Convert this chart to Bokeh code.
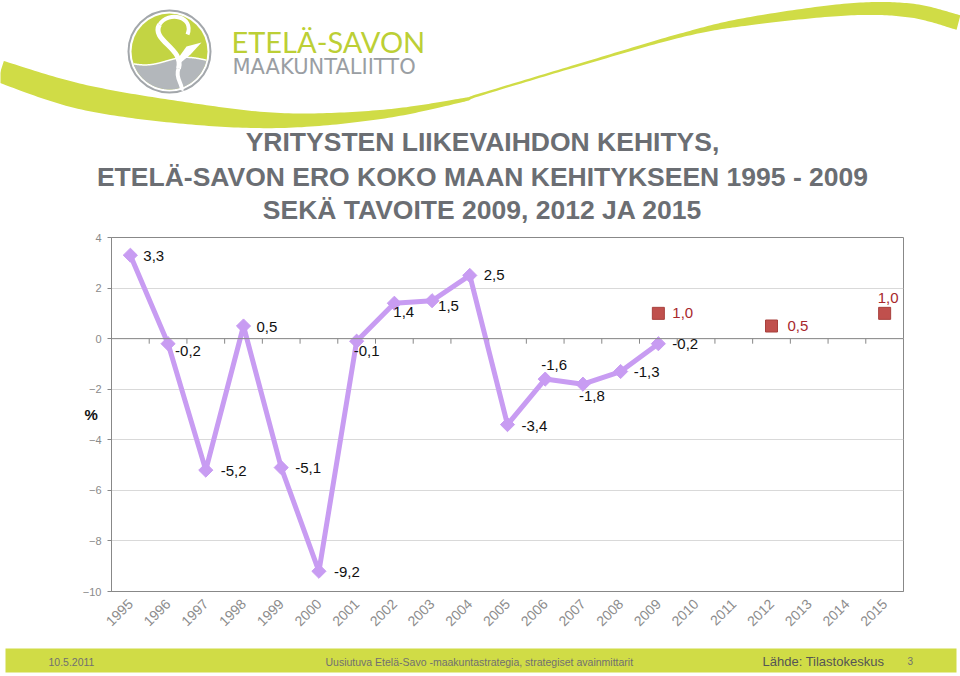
import numpy as np
from bokeh.plotting import figure
from bokeh.layouts import column
from bokeh.models import Range1d, FixedTicker, ColumnDataSource, LabelSet, Span
from bokeh.core.properties import value
from bokeh.embed import file_html
from bokeh.resources import INLINE

# ---------------- data ----------------
YEARS = [1995, 1996, 1997, 1998, 1999, 2000, 2001, 2002, 2003, 2004, 2005,
         2006, 2007, 2008, 2009, 2010, 2011, 2012, 2013, 2014, 2015]
ACTUAL_YEARS = [1995, 1996, 1997, 1998, 1999, 2000, 2001, 2002, 2003, 2004,
                2005, 2006, 2007, 2008, 2009]
ACTUAL = [3.3, -0.2, -5.2, 0.5, -5.1, -9.2, -0.1, 1.4, 1.5, 2.5,
          -3.4, -1.6, -1.8, -1.3, -0.2]
TARGET_YEARS = [2009, 2012, 2015]
TARGET = [1.0, 0.5, 1.0]
Y_TICKS = [4, 2, 0, -2, -4, -6, -8, -10]
Y_LABEL = "%"
TITLE_LINES = ["YRITYSTEN LIIKEVAIHDON KEHITYS,",
               "ETELÄ-SAVON ERO KOKO MAAN KEHITYKSEEN 1995 - 2009",
               "SEKÄ TAVOITE 2009, 2012 JA 2015"]
FOOTER_DATE = "10.5.2011"
FOOTER_MID = "Uusiutuva Etelä-Savo -maakuntastrategia, strategiset avainmittarit"
FOOTER_SRC = "Lähde: Tilastokeskus"
FOOTER_PAGE = "3"

# label offsets in pixels (style only)
ACTUAL_DX = [13, 7, 15, 13, 14, 15, -3, -1, 6, 14, 14, -4, -4, 13, 14]
ACTUAL_DY = [-1, -7, -1, -1, 0, -1, -10, -9, -5, 0, -1, 14, -12, 0, 0]
TARGET_DX = [14, 16, -7]
TARGET_DY = [0, 0, 15]

FONT = value("Liberation Sans")
W = 960
LINE_COL = "#c89cf2"
GREEN = "#d0dc46"


def fmt(v):
    return f"{v:.1f}".replace(".", ",")


def no_align(f):
    if "frame_align" in f.properties():
        f.frame_align = False
    return f


def blank_fig(h, y0, y1):
    f = figure(width=W, height=h, x_range=Range1d(0, W), y_range=Range1d(y1, y0),
               output_backend="svg", toolbar_location=None, min_border=0,
               x_axis_type=None, y_axis_type=None)
    f.grid.visible = False
    f.outline_line_color = None
    f.background_fill_color = "white"
    return no_align(f)


def smooth(pts, n=24):
    pts = np.asarray(pts, float)
    P = np.vstack([pts[0], pts, pts[-1]])
    out = []
    for i in range(1, len(P) - 2):
        p0, p1, p2, p3 = P[i - 1], P[i], P[i + 1], P[i + 2]
        t = np.linspace(0, 1, n, endpoint=False)[:, None]
        out.append(0.5 * ((2 * p1) + (-p0 + p2) * t + (2 * p0 - 5 * p1 + 4 * p2 - p3) * t ** 2
                          + (-p0 + 3 * p1 - 3 * p2 + p3) * t ** 3))
    out.append(P[-2][None, :])
    return np.vstack(out)


# ---------------- header ----------------
hdr = blank_fig(229, 0, 229)

swoosh = smooth([(0, 71, 22), (80, 96, 25), (180, 112, 22), (280, 120, 15), (380, 114, 9),
                 (460, 100, 4), (480, 94, 2.5), (580, 64, 2.5), (680, 35, 4), (747, 21, 8),
                 (847, 9, 12), (910, 10, 14), (958, 22, 15)])
cx_, cy_, th = swoosh[:, 0], swoosh[:, 1], swoosh[:, 2]
dx, dy = np.gradient(cx_), np.gradient(cy_)
nrm = np.hypot(dx, dy)
nx, ny = -dy / nrm, dx / nrm
ux, uy = cx_ + nx * th / 2, cy_ + ny * th / 2
lx, ly = cx_ - nx * th / 2, cy_ - ny * th / 2
hdr.patch(np.concatenate([ux, lx[::-1]]), np.concatenate([uy, ly[::-1]]),
          fill_color=GREEN, line_color=None)

# logo
LCX, LCY, LR = 169, 51, 41
hdr.circle([LCX], [LCY], radius=LR, fill_color="white", line_color="#a3a7ab", line_width=2)
r_in = 38
hdr.circle([LCX], [LCY], radius=r_in, fill_color="#c3d443", line_color=None)
xs = np.linspace(LCX - r_in, LCX + r_in, 400)
wave = 61 + 3.0 * np.sin((xs - (LCX - r_in)) / (2 * r_in) * 2 * np.pi + 0.3) - 0.04 * (xs - LCX)
inside = (xs - LCX) ** 2 + (wave - LCY) ** 2 <= r_in ** 2
wx, wy = xs[inside], wave[inside]
th1 = np.arctan2(wy[-1] - LCY, wx[-1] - LCX)
th2 = np.arctan2(wy[0] - LCY, wx[0] - LCX)
if th2 < th1:
    th2 += 2 * np.pi
ang = np.linspace(th1, th2, 80)
gx = np.concatenate([wx, LCX + r_in * np.cos(ang)])
gy = np.concatenate([wy, LCY + r_in * np.sin(ang)])
hdr.patch(gx, gy, fill_color="#b3b7bb", line_color=None)
hdr.line(wx, wy - 0.5, line_color="white", line_width=1.5)
# white swirl
hdr.bezier(x0=[187], y0=[34], x1=[159], y1=[24], cx0=[194], cy0=[16], cx1=[168], cy1=[10],
           line_color="white", line_width=4)
hdr.bezier(x0=[159], y0=[24], x1=[178], y1=[68], cx0=[150], cy0=[40], cx1=[184], cy1=[48],
           line_color="white", line_width=5)
hdr.bezier(x0=[178], y0=[68], x1=[181], y1=[90], cx0=[174], cy0=[78], cx1=[183], cy1=[84],
           line_color="white", line_width=4)
hdr.patch([176, 186, 201, 190, 178], [60, 46, 42, 54, 64], fill_color="white", line_color=None)

hdr.text(x=[231], y=[41], text=["ETELÄ-SAVON"], text_font=value("Lato"), text_font_size="29px",
         text_color="#bccf35", text_baseline="middle", text_align="left")
hdr.text(x=[232], y=[66], text=["MAAKUNTALIITTO"], text_font=value("DejaVu Sans"),
         text_font_size="21px", text_color="#9a9ea3", text_baseline="middle", text_align="left")

hdr.text(x=[482, 482, 482], y=[141, 176, 209], text=TITLE_LINES, text_font=FONT,
         text_font_style="bold", text_font_size="26.5px", text_color="#6b6e73",
         text_align="center", text_baseline="middle")

# ---------------- main chart ----------------
p = figure(width=W, height=416, x_range=Range1d(1994.5, 2015.5), y_range=Range1d(-10, 4),
           output_backend="svg", toolbar_location=None,
           min_border_left=111, min_border_right=57, min_border_top=8, min_border_bottom=54)
no_align(p)
p.background_fill_color = "white"
p.outline_line_color = "#888888"
p.xgrid.visible = False
p.ygrid.ticker = FixedTicker(ticks=Y_TICKS)
p.ygrid.grid_line_color = "#d9d9d9"

p.xaxis.ticker = FixedTicker(ticks=YEARS)
p.xaxis.major_label_overrides = {y: str(y) for y in YEARS}
p.xaxis.major_label_orientation = np.pi / 4
p.xaxis.major_tick_line_color = None
p.xaxis.minor_tick_line_color = None
p.xaxis.axis_line_color = "#888888"
p.xaxis.major_label_text_font = "Liberation Sans"
p.xaxis.major_label_text_font_size = "14px"
p.xaxis.major_label_text_color = "#8c8c8c"
p.xaxis.major_label_standoff = 4

p.yaxis.ticker = FixedTicker(ticks=Y_TICKS)
p.yaxis.major_tick_in = 0
p.yaxis.major_tick_out = 4
p.yaxis.major_tick_line_color = "#888888"
p.yaxis.minor_tick_line_color = None
p.yaxis.axis_line_color = "#888888"
p.yaxis.major_label_text_font = "Liberation Sans"
p.yaxis.major_label_text_font_size = "11px"
p.yaxis.major_label_text_color = "#8a8a8a"
p.yaxis.major_label_standoff = 6
p.yaxis.axis_label = Y_LABEL
p.yaxis.axis_label_orientation = "horizontal"
p.yaxis.axis_label_standoff = -18
p.yaxis.axis_label_text_font = "Liberation Sans"
p.yaxis.axis_label_text_font_size = "15px"
p.yaxis.axis_label_text_font_style = "bold"
p.yaxis.axis_label_text_color = "#111111"

p.add_layout(Span(location=0, dimension="width", line_color="#888888", line_width=1))
bounds = [y + 0.5 for y in YEARS[:-1]]
p.segment(x0=bounds, y0=[0] * len(bounds), x1=bounds, y1=[-0.2] * len(bounds),
          line_color="#888888", line_width=1)

p.line(ACTUAL_YEARS, ACTUAL, line_color=LINE_COL, line_width=5)
p.scatter(ACTUAL_YEARS, ACTUAL, marker="square", angle=np.pi / 4, size=10,
          fill_color=LINE_COL, line_color=LINE_COL)
p.scatter(TARGET_YEARS, TARGET, marker="square", size=12, fill_color="#c0504d",
          line_color="#a8403d")

src_a = ColumnDataSource(dict(x=ACTUAL_YEARS, y=ACTUAL, t=[fmt(v) for v in ACTUAL],
                              dx=ACTUAL_DX, dy=ACTUAL_DY))
p.add_layout(LabelSet(x="x", y="y", text="t", x_offset="dx", y_offset="dy", source=src_a,
                      text_font=FONT, text_font_size="15px", text_color="#111111",
                      text_baseline="middle", text_align="left"))
src_t = ColumnDataSource(dict(x=TARGET_YEARS, y=TARGET, t=[fmt(v) for v in TARGET],
                              dx=TARGET_DX, dy=TARGET_DY))
p.add_layout(LabelSet(x="x", y="y", text="t", x_offset="dx", y_offset="dy", source=src_t,
                      text_font=FONT, text_font_size="15px", text_color="#a8282c",
                      text_baseline="middle", text_align="left"))

# ---------------- footer ----------------
ftr = blank_fig(31, 645, 676)
ftr.quad(left=[5], right=[956], top=[648], bottom=[672], fill_color=GREEN, line_color=None)
ftr.text(x=[48], y=[661], text=[FOOTER_DATE], text_font=FONT, text_font_size="10.5px",
         text_color="#707070", text_baseline="middle", text_align="left")
ftr.text(x=[325], y=[661], text=[FOOTER_MID], text_font=FONT, text_font_size="10.5px",
         text_color="#707070", text_baseline="middle", text_align="left")
ftr.text(x=[762], y=[661], text=[FOOTER_SRC], text_font=FONT, text_font_size="13px",
         text_color="#555555", text_baseline="middle", text_align="left")
ftr.text(x=[907], y=[660], text=[FOOTER_PAGE], text_font=FONT, text_font_size="10px",
         text_color="#707070", text_baseline="middle", text_align="left")

layout = column(hdr, p, ftr, spacing=0)
open("out.html", "w").write(file_html(layout, INLINE))
